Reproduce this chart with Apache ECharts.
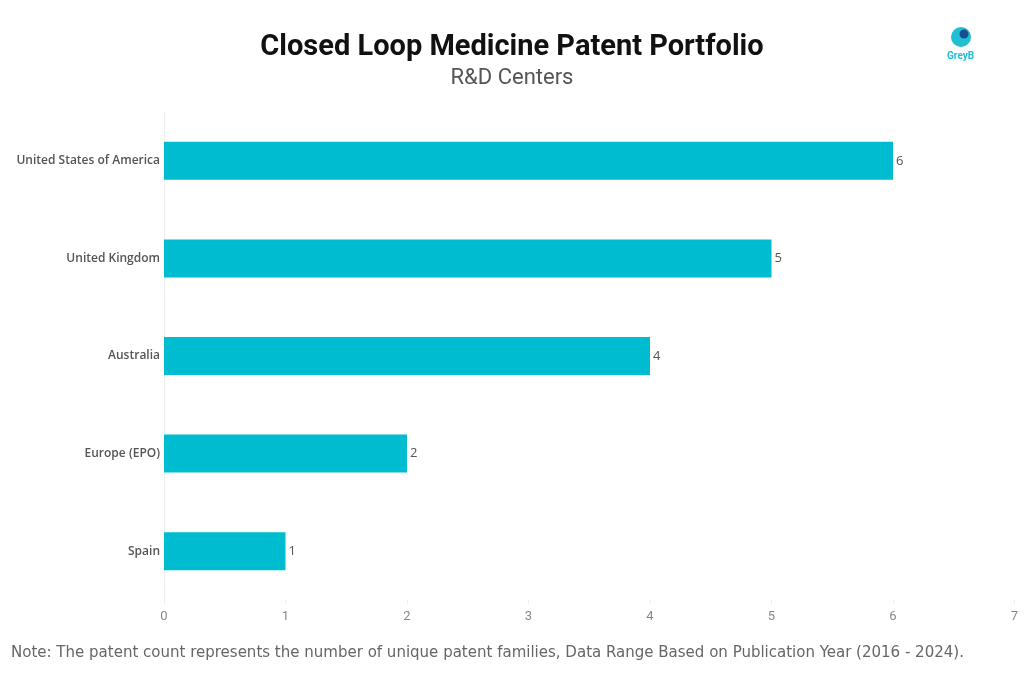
<!DOCTYPE html>
<html><head><meta charset="utf-8">
<script src="https://cdn.jsdelivr.net/npm/echarts@6/dist/echarts.min.js"></script>
<style>html,body{margin:0;padding:0;background:#fff}#c{width:1024px;height:683px}</style>
</head><body><div id="c"></div>
<script>
const categories = ["United States of America","United Kingdom","Australia","Europe (EPO)","Spain"];
const values = [6,5,4,2,1];
const xTicks = [0,1,2,3,4,5,6,7];

const chart = echarts.init(document.getElementById('c'));
chart.setOption({
  backgroundColor:'#fff',
  animation:false,
  title:[
    {text:'Closed Loop Medicine Patent Portfolio',left:'center',top:28,
     textStyle:{fontFamily:'Roboto',fontWeight:'bold',fontSize:29,color:'#111'}},
    {text:'R&D Centers',left:'center',top:62,
     textStyle:{fontFamily:'Roboto',fontWeight:'normal',fontSize:22,color:'#555'}},
    {text:'Note: The patent count represents the number of unique patent families, Data Range Based on Publication Year (2016 - 2024).',
     left:6,top:639,textStyle:{fontFamily:"'DejaVu Sans Condensed', Roboto, sans-serif",fontWeight:'normal',fontSize:16.7,color:'#666'}}
  ],
  graphic:[
    {type:'circle',shape:{cx:961,cy:37,r:10},style:{fill:'#1fc0d4'}},
    {type:'circle',shape:{cx:964,cy:34,r:4.5},style:{fill:'#1a4d8f'}},
    {type:'text',left:947,top:51,style:{text:'GreyB',fill:'#1fc0d4',font:'bold 10px Roboto'}}
  ],
  grid:{left:164,right:9.5,top:112,bottom:83,containLabel:false},
  xAxis:{type:'value',min:0,max:7,interval:1,
    axisLine:{show:false},axisTick:{show:true,length:4,lineStyle:{color:'#eee'}},
    splitLine:{show:false},
    axisLabel:{color:'#888',fontFamily:'Roboto',fontSize:13,margin:10,
      formatter:v=>xTicks.includes(v)?String(v):''}},
  yAxis:{type:'category',data:categories,inverse:true,
    axisLine:{show:true,lineStyle:{color:'#eee'}},axisTick:{show:false},
    axisLabel:{color:'#555',fontFamily:'Open Sans',fontWeight:600,fontSize:12,margin:4}},
  series:[{type:'bar',data:values,barWidth:38,itemStyle:{color:'#00BCD0'},
    label:{show:true,position:'right',distance:3,color:'#555',fontFamily:'Open Sans',fontSize:13}}]
});
</script></body></html>
